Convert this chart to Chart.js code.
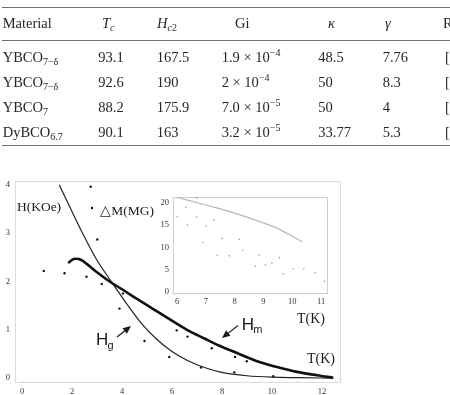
<!DOCTYPE html>
<html>
<head>
<meta charset="utf-8">
<script src="https://cdn.jsdelivr.net/npm/chart.js@4.4.1/dist/chart.umd.min.js"></script>
<style>
  html, body { margin:0; padding:0; background:#fff; }
  body { width:450px; height:395px; overflow:hidden; position:relative;
         font-family:"Liberation Serif", "Times New Roman", serif; color:#262626; }
  canvas { position:absolute; left:0; top:0; }
  #table { position:absolute; left:0; top:0; width:450px; height:160px; }
  .rule { position:absolute; left:2px; width:448px; background:#707070; }
  .cell { position:absolute; font-size:14.5px; line-height:1; white-space:nowrap; }
  .cell sub { font-size:10px; vertical-align:-3px; line-height:0; }
  .cell sup { font-size:10px; vertical-align:6px; line-height:0; }
</style>
</head>
<body>
<canvas id="main" width="450" height="395"></canvas>
<canvas id="inset" width="450" height="395"></canvas>
<div id="table"></div>
<script>
/* ---------- table values ---------- */
const materialBase = ["YBCO", "YBCO", "YBCO", "DyBCO"];
const materialSub  = ["7\u2212\u03b4", "7\u2212\u03b4", "7", "6.7"];
const tcValues     = ["93.1", "92.6", "88.2", "90.1"];
const hc2Values    = ["167.5", "190", "175.9", "163"];
const giMantissa   = ["1.9", "2", "7.0", "3.2"];
const giExponent   = ["\u22124", "\u22124", "\u22125", "\u22125"];
const kappaValues  = ["48.5", "50", "50", "33.77"];
const gammaValues  = ["7.76", "8.3", "4", "5.3"];
const refValues    = ["[", "[", "[", "["];

/* ---------- main plot: H(T) ---------- */
// melting line Hm (thick)
const hmTemp  = [1.85, 2.0, 2.15, 2.35, 2.6, 3.0, 3.5, 4.0, 4.6, 5.25, 5.9, 6.6, 7.3, 7.9, 8.6, 9.4, 10.2, 11.0, 11.8, 12.45];
const hmField = [2.38, 2.45, 2.47, 2.45, 2.36, 2.19, 2.0, 1.84, 1.64, 1.43, 1.22, 1.0, 0.82, 0.67, 0.52, 0.35, 0.23, 0.13, 0.06, 0.01];
// glass line Hg (thin)
const hgTemp  = [1.49, 2.0, 2.5, 3.0, 3.6, 4.2, 4.8, 5.4, 6.0, 6.6, 7.3, 8.0, 9.0, 10.0, 11.0, 12.45];
const hgField = [4.0, 3.45, 2.92, 2.44, 1.98, 1.53, 1.12, 0.8, 0.55, 0.37, 0.22, 0.12, 0.05, 0.02, 0.01, 0.0];
// Delta M dots
const dmTemp  = [0.87, 1.7, 2.58, 2.75, 2.8, 3.01, 3.19, 3.9, 4.04, 4.9, 5.89, 6.19, 6.62, 7.16, 7.59, 8.49, 8.52, 8.99, 10.05];
const dmField = [2.22, 2.17, 2.1, 3.96, 3.52, 2.87, 1.95, 1.44, 1.75, 0.77, 0.44, 0.99, 0.86, 0.22, 0.62, 0.12, 0.44, 0.35, 0.04];
const mainXTicks = [0, 2, 4, 6, 8, 10, 12];
const mainYTicks = [0, 1, 2, 3, 4];

/* ---------- inset ---------- */
const insetLineTemp = [5.95, 7.0, 8.0, 9.0, 9.5, 10.0, 10.35];
const insetLineVal  = [21.3, 19.5, 17.7, 15.5, 14.2, 12.5, 11.2];
const insetDotTemp  = [6.0, 6.3, 6.68, 6.68, 6.36, 7.01, 7.29, 6.9, 7.57, 8.16, 8.28, 7.4, 7.82, 8.85, 8.71, 9.07, 9.29, 9.56, 9.69, 10.04, 10.4, 10.8, 11.12];
const insetDotVal   = [16.8, 19.0, 21.1, 16.8, 15.0, 14.8, 16.1, 11.1, 12.0, 11.8, 9.4, 8.3, 8.1, 8.3, 5.8, 6.1, 6.5, 7.7, 4.1, 5.2, 5.2, 4.3, 2.4];
const insetXTicks = [6, 7, 8, 9, 10, 11];
const insetYTicks = [0, 5, 10, 15, 20];

function zip(xs, ys){ return xs.map((x, i) => ({ x, y: ys[i] })); }

/* ---------- build table ---------- */
const table = document.getElementById("table");
function cell(html, left, top){
  const d = document.createElement("div");
  d.className = "cell";
  d.style.left = left + "px";
  d.style.top = top + "px";
  d.innerHTML = html;
  table.appendChild(d);
}
function rule(top, h){
  const d = document.createElement("div");
  d.className = "rule";
  d.style.top = top + "px";
  d.style.height = h + "px";
  table.appendChild(d);
}
rule(6.5, 1.4);
rule(40.2, 1);
rule(144.5, 1.6);

const headTop = 16.2;
cell("Material", 2.7, headTop);
cell("<i>T</i><sub><i>c</i></sub>", 102, headTop);
cell("<i>H</i><sub><i>c</i>2</sub>", 157, headTop);
cell("Gi", 235, headTop);
cell("<i>\u03ba</i>", 328, headTop);
cell("<i>\u03b3</i>", 385, headTop);
cell("Ref.", 443, headTop);

const rowTops = [49.6, 74.6, 99.6, 124.6];
materialBase.forEach((m, i) => {
  const t = rowTops[i];
  cell(m + "<sub>" + materialSub[i] + "</sub>", 2.7, t);
  cell(tcValues[i], 98.3, t);
  cell(hc2Values[i], 156.7, t);
  cell(giMantissa[i] + " \u00d7 10<sup>" + giExponent[i] + "</sup>", 221.7, t);
  cell(kappaValues[i], 318.3, t);
  cell(gammaValues[i], 382.7, t);
  cell(refValues[i], 445, t);
});

/* ---------- plugins ---------- */
const framePlugin = {
  id: "frame",
  beforeDatasetsDraw(chart, args, opts){
    const { ctx, chartArea: a, scales: { x, y } } = chart;
    ctx.save();
    if(opts.fill){
      ctx.fillStyle = opts.fill;
      ctx.fillRect(a.left, a.top, a.width, a.height);
    }
    ctx.strokeStyle = opts.color;
    ctx.lineWidth = 1;
    ctx.strokeRect(Math.round(a.left) + 0.5, Math.round(a.top) + 0.5,
                   Math.round(a.width) - 1, Math.round(a.height) - 1);
    ctx.beginPath();
    const nx = Math.floor((x.max - x.min) / opts.xStep) + 1;
    const x0 = Math.ceil(x.min / opts.xStep) * opts.xStep;
    for(let i = 0; i < nx; i++){
      const v = x0 + i * opts.xStep;
      if(v > x.max) break;
      const px = Math.round(x.getPixelForValue(v)) + 0.5;
      ctx.moveTo(px, a.bottom); ctx.lineTo(px, a.bottom - opts.len);
      ctx.moveTo(px, a.top); ctx.lineTo(px, a.top + opts.len);
    }
    const ny = Math.floor((y.max - y.min) / opts.yStep) + 1;
    const y0 = Math.ceil(y.min / opts.yStep) * opts.yStep;
    for(let i = 0; i < ny; i++){
      const v = y0 + i * opts.yStep;
      if(v > y.max) break;
      const py = Math.round(y.getPixelForValue(v)) + 0.5;
      ctx.moveTo(a.left, py); ctx.lineTo(a.left + opts.len, py);
      ctx.moveTo(a.right, py); ctx.lineTo(a.right - opts.len, py);
    }
    ctx.stroke();
    ctx.restore();
  }
};

function arrow(ctx, x1, y1, x2, y2){
  const ang = Math.atan2(y2 - y1, x2 - x1);
  const L = 8, W = 3.5;
  ctx.beginPath();
  ctx.moveTo(x1, y1);
  ctx.lineTo(x2 - Math.cos(ang) * L * 0.8, y2 - Math.sin(ang) * L * 0.8);
  ctx.stroke();
  ctx.beginPath();
  ctx.moveTo(x2, y2);
  ctx.lineTo(x2 - Math.cos(ang) * L - Math.sin(ang) * W, y2 - Math.sin(ang) * L + Math.cos(ang) * W);
  ctx.lineTo(x2 - Math.cos(ang) * L + Math.sin(ang) * W, y2 - Math.sin(ang) * L - Math.cos(ang) * W);
  ctx.closePath();
  ctx.fill();
}

const notesPlugin = {
  id: "notes",
  afterDatasetsDraw(chart){
    const { ctx, scales: { x, y } } = chart;
    const X = v => x.getPixelForValue(v), Y = v => y.getPixelForValue(v);
    ctx.save();
    ctx.fillStyle = "#1a1a1a";
    ctx.strokeStyle = "#1a1a1a";
    ctx.textAlign = "center";
    ctx.textBaseline = "middle";
    ctx.font = '13.5px "Liberation Serif"';
    ctx.fillText("H(KOe)", X(0.68), Y(3.54));
    ctx.fillText("\u25b3M(MG)", X(4.2), Y(3.46));
    ctx.font = '14px "Liberation Serif"';
    ctx.fillText("T(K)", X(11.56), Y(1.22));
    ctx.fillText("T(K)", X(11.96), Y(0.39));

    ctx.textAlign = "left";
    ctx.textBaseline = "alphabetic";
    // Hg
    ctx.font = '17px "Liberation Sans"';
    ctx.fillText("H", X(2.96), Y(0.68));
    ctx.font = '11px "Liberation Sans"';
    ctx.fillText("g", X(2.96) + 11.5, Y(0.68) + 4);
    // Hm
    ctx.font = '17px "Liberation Sans"';
    ctx.fillText("H", X(8.79), Y(0.99));
    ctx.font = '11px "Liberation Sans"';
    ctx.fillText("m", X(8.79) + 11.5, Y(0.99) + 3);

    ctx.lineWidth = 1.2;
    arrow(ctx, X(3.8), Y(0.85), X(4.36), Y(1.08));
    arrow(ctx, X(8.64), Y(1.09), X(8.0), Y(0.83));
    ctx.restore();
  }
};

const tickFont = { family: "Liberation Serif", size: 8.5 };

/* ---------- main chart ---------- */
new Chart(document.getElementById("main"), {
  type: "scatter",
  data: {
    datasets: [
      { label: "Hm", data: zip(hmTemp, hmField), showLine: true, borderColor: "#111",
        borderWidth: 2.6, pointRadius: 0, cubicInterpolationMode: "monotone" },
      { label: "Hg", data: zip(hgTemp, hgField), showLine: true, borderColor: "#222",
        borderWidth: 1.2, pointRadius: 0, cubicInterpolationMode: "monotone" },
      { label: "dM", data: zip(dmTemp, dmField), pointRadius: 1.2,
        backgroundColor: "#111", borderWidth: 0 }
    ]
  },
  options: {
    responsive: false,
    animation: false,
    events: [],
    layout: { padding: { left: 0, right: 109, top: 181, bottom: 0 } },
    plugins: {
      legend: { display: false },
      tooltip: { enabled: false },
      frame: { color: "#dcdcdc", xStep: 0.5, yStep: 0.5, len: 2 }
    },
    scales: {
      x: {
        type: "linear", min: -0.28, max: 12.76,
        grid: { display: false, drawTicks: false }, border: { display: false },
        afterBuildTicks: s => { s.ticks = mainXTicks.map(v => ({ value: v })); },
        afterFit: s => { s.height = 12; },
        ticks: { font: tickFont, color: "#333", padding: 4, maxRotation: 0, autoSkip: false }
      },
      y: {
        type: "linear", min: -0.1, max: 4.08,
        grid: { display: false, drawTicks: false }, border: { display: false },
        afterBuildTicks: s => { s.ticks = mainYTicks.map(v => ({ value: v })); },
        afterFit: s => { s.width = 15; },
        ticks: { font: tickFont, color: "#333", padding: 5, autoSkip: false }
      }
    }
  },
  plugins: [framePlugin, notesPlugin]
});

/* ---------- inset chart ---------- */
new Chart(document.getElementById("inset"), {
  type: "scatter",
  data: {
    datasets: [
      { label: "line", data: zip(insetLineTemp, insetLineVal), showLine: true,
        borderColor: "#b8b8b8", borderWidth: 1.2, pointRadius: 0, cubicInterpolationMode: "monotone" },
      { label: "dots", data: zip(insetDotTemp, insetDotVal), pointRadius: 0.8,
        backgroundColor: "#9a9a9a", borderWidth: 0 }
    ]
  },
  options: {
    responsive: false,
    animation: false,
    events: [],
    layout: { padding: { left: 161, right: 122, top: 197, bottom: 89 } },
    plugins: {
      legend: { display: false },
      tooltip: { enabled: false },
      frame: { color: "#cfcfcf", fill: "#fff", xStep: 1, yStep: 5, len: 0 }
    },
    scales: {
      x: {
        type: "linear", min: 5.86, max: 11.24,
        grid: { display: false, drawTicks: false }, border: { display: false },
        afterBuildTicks: s => { s.ticks = insetXTicks.map(v => ({ value: v })); },
        afterFit: s => { s.height = 12; },
        ticks: { font: tickFont, color: "#333", padding: 3, maxRotation: 0, autoSkip: false }
      },
      y: {
        type: "linear", min: -0.45, max: 21.3,
        grid: { display: false, drawTicks: false }, border: { display: false },
        afterBuildTicks: s => { s.ticks = insetYTicks.map(v => ({ value: v })); },
        afterFit: s => { s.width = 12; },
        ticks: { font: tickFont, color: "#333", padding: 4, autoSkip: false }
      }
    }
  },
  plugins: [framePlugin]
});
</script>
</body>
</html>
